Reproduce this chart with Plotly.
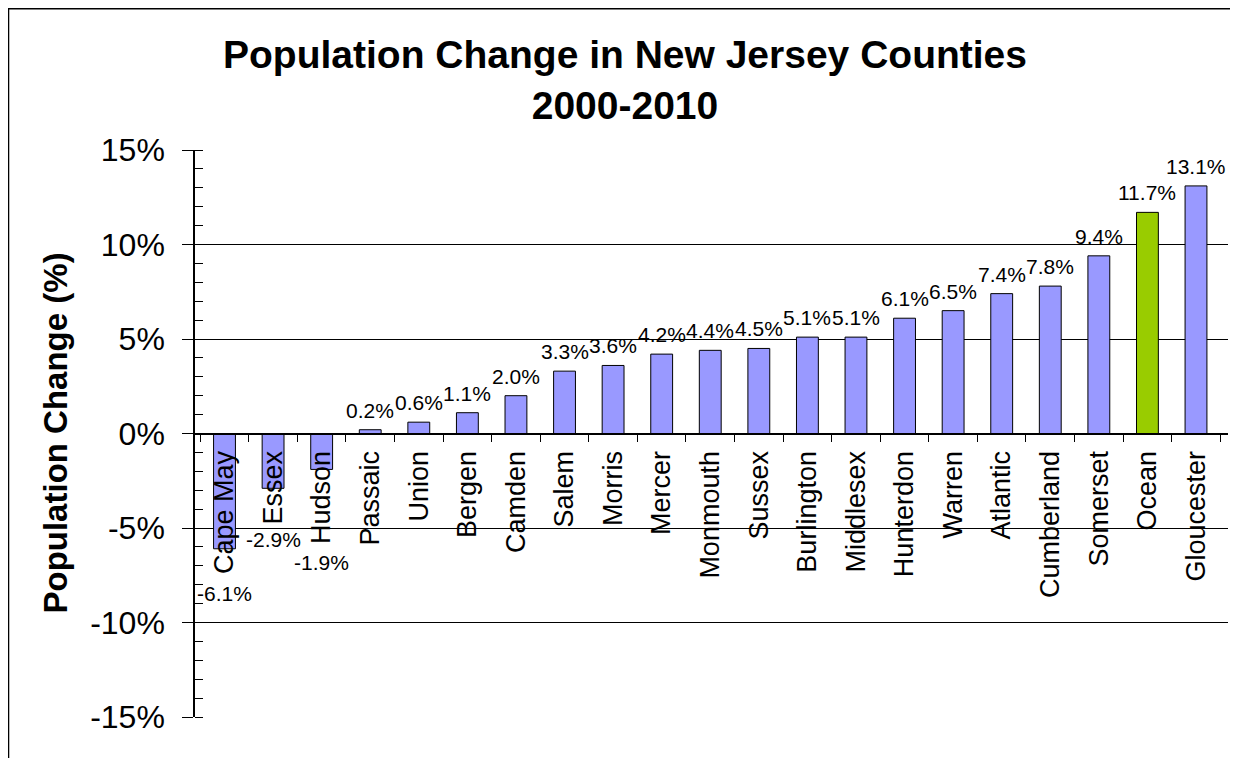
import plotly.graph_objects as go

counties = ["Cape May", "Essex", "Hudson", "Passaic", "Union", "Bergen", "Camden",
            "Salem", "Morris", "Mercer", "Monmouth", "Sussex", "Burlington", "Middlesex",
            "Hunterdon", "Warren", "Atlantic", "Cumberland", "Somerset", "Ocean", "Gloucester"]
change = [-6.1, -2.9, -1.9, 0.2, 0.6, 1.1, 2.0, 3.3, 3.6, 4.2, 4.4, 4.5, 5.1, 5.1,
          6.1, 6.5, 7.4, 7.8, 9.4, 11.7, 13.1]
highlight = "Ocean"

y_ticks = [-15, -10, -5, 0, 5, 10, 15]
y_labels = ["-15%", "-10%", "-5%", "0%", "5%", "10%", "15%"]

BAR = "#9999FF"
GREEN = "#99CC00"
FONT = "Liberation Sans, Arial, sans-serif"

# the negative labels were nudged down in the original chart (px)
neg_nudge = {"Cape May": 31, "Essex": 38, "Hudson": 80}

# page body has an 8px margin, so the figure is 8px smaller than the window
W, H = 1230, 750

colors = [GREEN if c == highlight else BAR for c in counties]

fig = go.Figure()
fig.add_trace(go.Bar(
    x=counties, y=change,
    marker=dict(color=colors, line=dict(color="black", width=1)),
    hoverinfo="x+y",
))

for c, v in zip(counties, change):
    if v >= 0:
        fig.add_annotation(x=c, y=v, text=f"{v:.1f}%", showarrow=False,
                           yanchor="bottom", yshift=6,
                           font=dict(family=FONT, size=21, color="black"))
    else:
        fig.add_annotation(x=c, y=v, text=f"{v:.1f}%", showarrow=False,
                           yanchor="top", yshift=-neg_nudge.get(c, 2),
                           font=dict(family=FONT, size=21, color="black"))

# y axis title
fig.add_annotation(xref="paper", yref="paper", x=-0.1355, y=0.5,
                   xanchor="center", yanchor="middle",
                   text="<b>Population Change (%)</b>", textangle=-90,
                   showarrow=False, font=dict(family=FONT, size=33, color="black"))

# chart border (right and bottom run off the picture)
fig.add_shape(type="rect", xref="paper", yref="paper",
              x0=-0.181, x1=1.05, y0=-0.2, y1=1.25,
              line=dict(color="black", width=2.5), layer="above")

fig.update_layout(
    width=W, height=H,
    margin=dict(l=187, r=10, t=142, b=41),
    paper_bgcolor="white", plot_bgcolor="white",
    bargap=0.55, showlegend=False,
    font=dict(family=FONT, color="black"),
    title=dict(text="<b>Population Change in New Jersey Counties<br>2000-2010</b>",
               x=617 / W, xanchor="center", y=1 - 60 / H, yanchor="top",
               font=dict(family=FONT, size=39, color="black")),
    xaxis=dict(
        anchor="free", position=0.5,
        showline=True, linecolor="black", linewidth=1.5,
        ticks="outside", ticklen=8, tickcolor="black", tickson="boundaries",
        tickangle=-90, tickfont=dict(family=FONT, size=27, color="black"),
        ticklabelstandoff=6,
        showgrid=False,
    ),
    yaxis=dict(
        range=[-15, 15], tickvals=y_ticks, ticktext=y_labels,
        showline=True, linecolor="black", linewidth=1.5,
        ticks="outside", ticklen=11, tickcolor="black",
        tickfont=dict(family=FONT, size=32, color="black"),
        showgrid=True, gridcolor="black", gridwidth=1,
        zeroline=True, zerolinecolor="black", zerolinewidth=1.5,
        minor=dict(ticks="inside", ticklen=8, dtick=1, tickcolor="black", showgrid=False),
        ticklabelstandoff=11,
    ),
)

fig.write_html("out.html")
